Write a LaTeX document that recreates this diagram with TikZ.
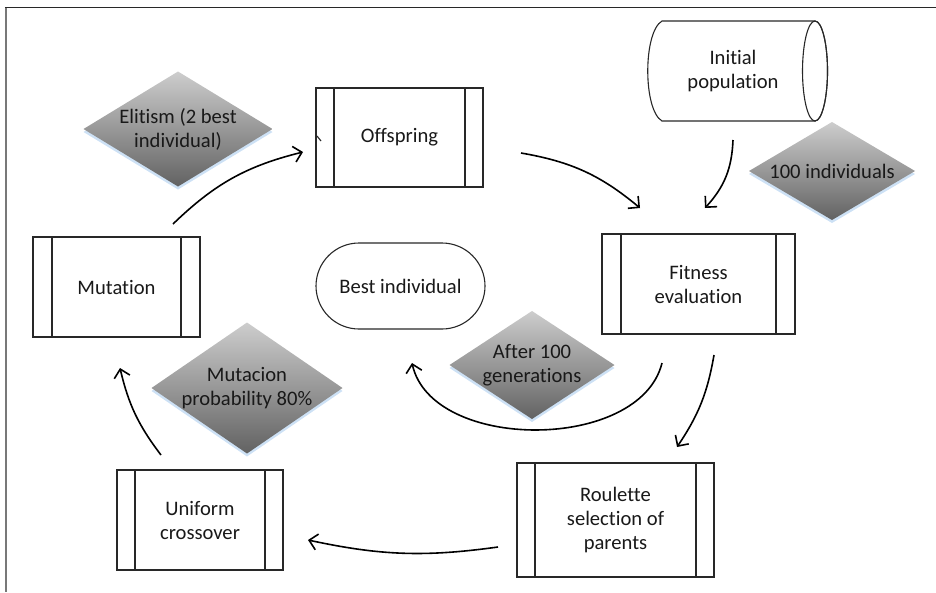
\documentclass[tikz,border=0pt]{standalone}
\usepackage{fontspec}
\setmainfont{Carlito}[Ligatures={NoCommon}]
\usetikzlibrary{arrows.meta,calc}
\definecolor{boxline}{RGB}{40,40,40}
\definecolor{txt}{RGB}{25,25,25}
\definecolor{diatop}{RGB}{205,205,205}
\definecolor{diabot}{RGB}{98,98,98}
\definecolor{glow}{RGB}{205,225,245}
\definecolor{framegray}{RGB}{120,120,120}
\tikzset{
  proc/.style={draw=boxline, fill=white, line width=1.1pt, outer sep=0pt, inner sep=0pt,
    align=center, text=txt, font=\fontsize{20.6}{24}\selectfont},
  term/.style={proc, rounded corners=43pt},
  diatext/.style={align=center, text=txt, font=\fontsize{20.6}{24}\selectfont},
  flow/.style={line width=1.6pt, -{Straight Barb[length=8pt,width=16pt]}},
}
\newcommand\gdia[5]{%
  \fill[glow] ($(#2)+(0,3)$) ++(-#3,0) -- ++(#3,-#4) -- ++(#3,#4) -- ++(-#3,#4) -- cycle;
  \shade[top color=diatop, bottom color=diabot] (#2) ++(-#3,0) -- ++(#3,-#4) -- ++(#3,#4) -- ++(-#3,#4) -- cycle;
  \node[diatext] (#1) at (#2) {#5};}
\begin{document}
\begin{tikzpicture}[x=1pt,y=-1pt]
\useasboundingbox (0,0) rectangle (936,592);
% frame
\draw[framegray, line width=1.8pt] (6,7) -- (6,592);
\draw[boxline, line width=1.6pt] (5,7.5) -- (936,7.5);

% diamonds
\gdia{eli}{178,129}{94.5}{57.5}{Elitism (2 best\\individual)}
\gdia{hund}{832,171}{83}{49}{100 individuals}
\gdia{mut}{247,388}{95.5}{65.5}{Mutacion\\probability 80\%}
\gdia{aft}{532,365}{82.5}{54}{After 100\\generations}

% process boxes
\node[proc, minimum width=167pt, minimum height=99pt] (off) at (399.5,137.5) {Offspring};
\node[proc, minimum width=193pt, minimum height=100pt] (fit) at (698.5,284) {Fitness\\evaluation};
\node[proc, minimum width=167pt, minimum height=100pt] (mu) at (116.5,287) {Mutation};
\node[proc, minimum width=166pt, minimum height=100pt] (uni) at (200,520) {Uniform\\crossover};
\node[proc, minimum width=197pt, minimum height=114pt] (rou) at (615.5,520) {Roulette\\selection of\\parents};
\foreach \n/\d in {off/18,fit/19,mu/19,uni/18,rou/18}{
  \draw[boxline, line width=1.1pt] ([xshift=\d pt]\n.north west) -- ([xshift=\d pt]\n.south west);
  \draw[boxline, line width=1.1pt] ([xshift=-\d pt]\n.north east) -- ([xshift=-\d pt]\n.south east);
}
\draw[boxline, line width=1.1pt] (317,136) -- (321,141);

% terminator
\node[term, minimum width=169pt, minimum height=86pt] (best) at (400.5,286) {Best individual};

% initial population (direct access storage)
\filldraw[boxline, fill=white, line width=1.1pt] (662,21) -- (815,21) arc[start angle=90, end angle=-90, x radius=12.5, y radius=-50]
  -- (662,121) .. controls (643,110) and (643,32) .. (662,21) -- cycle;
\draw[boxline, line width=1.1pt] (815,71) ellipse [x radius=12.5, y radius=50];
\node[diatext, minimum width=150pt, minimum height=100pt] (ini) at (733,71) {Initial\\population};

% connector end points
\coordinate (a1) at (173,224); \coordinate (a2) at (303,152);
\coordinate (b1) at (521,153); \coordinate (b2) at (640,208);
\coordinate (c1) at (733,140); \coordinate (c2) at (705,208);
\coordinate (d1) at (714,355); \coordinate (d2) at (677,447);
\coordinate (e1) at (662,363); \coordinate (e2) at (412,363);
\coordinate (f1) at (498,547); \coordinate (f2) at (308,540);
\coordinate (g1) at (161,455); \coordinate (g2) at (120,368);

\draw[flow] (a1) to[bend left=15] (a2);
\draw[flow] (b1) to[bend left=15] (b2);
\draw[flow] (c1) to[bend left=20] (c2);
\draw[flow] (d1) to[bend left=12] (d2);
\draw[flow] (e1) .. controls (640,452) and (432,452) .. (e2);
\draw[flow] (f1) to[bend left=10] (f2);
\draw[flow] (g1) to[bend left=12] (g2);
\end{tikzpicture}
\end{document}
